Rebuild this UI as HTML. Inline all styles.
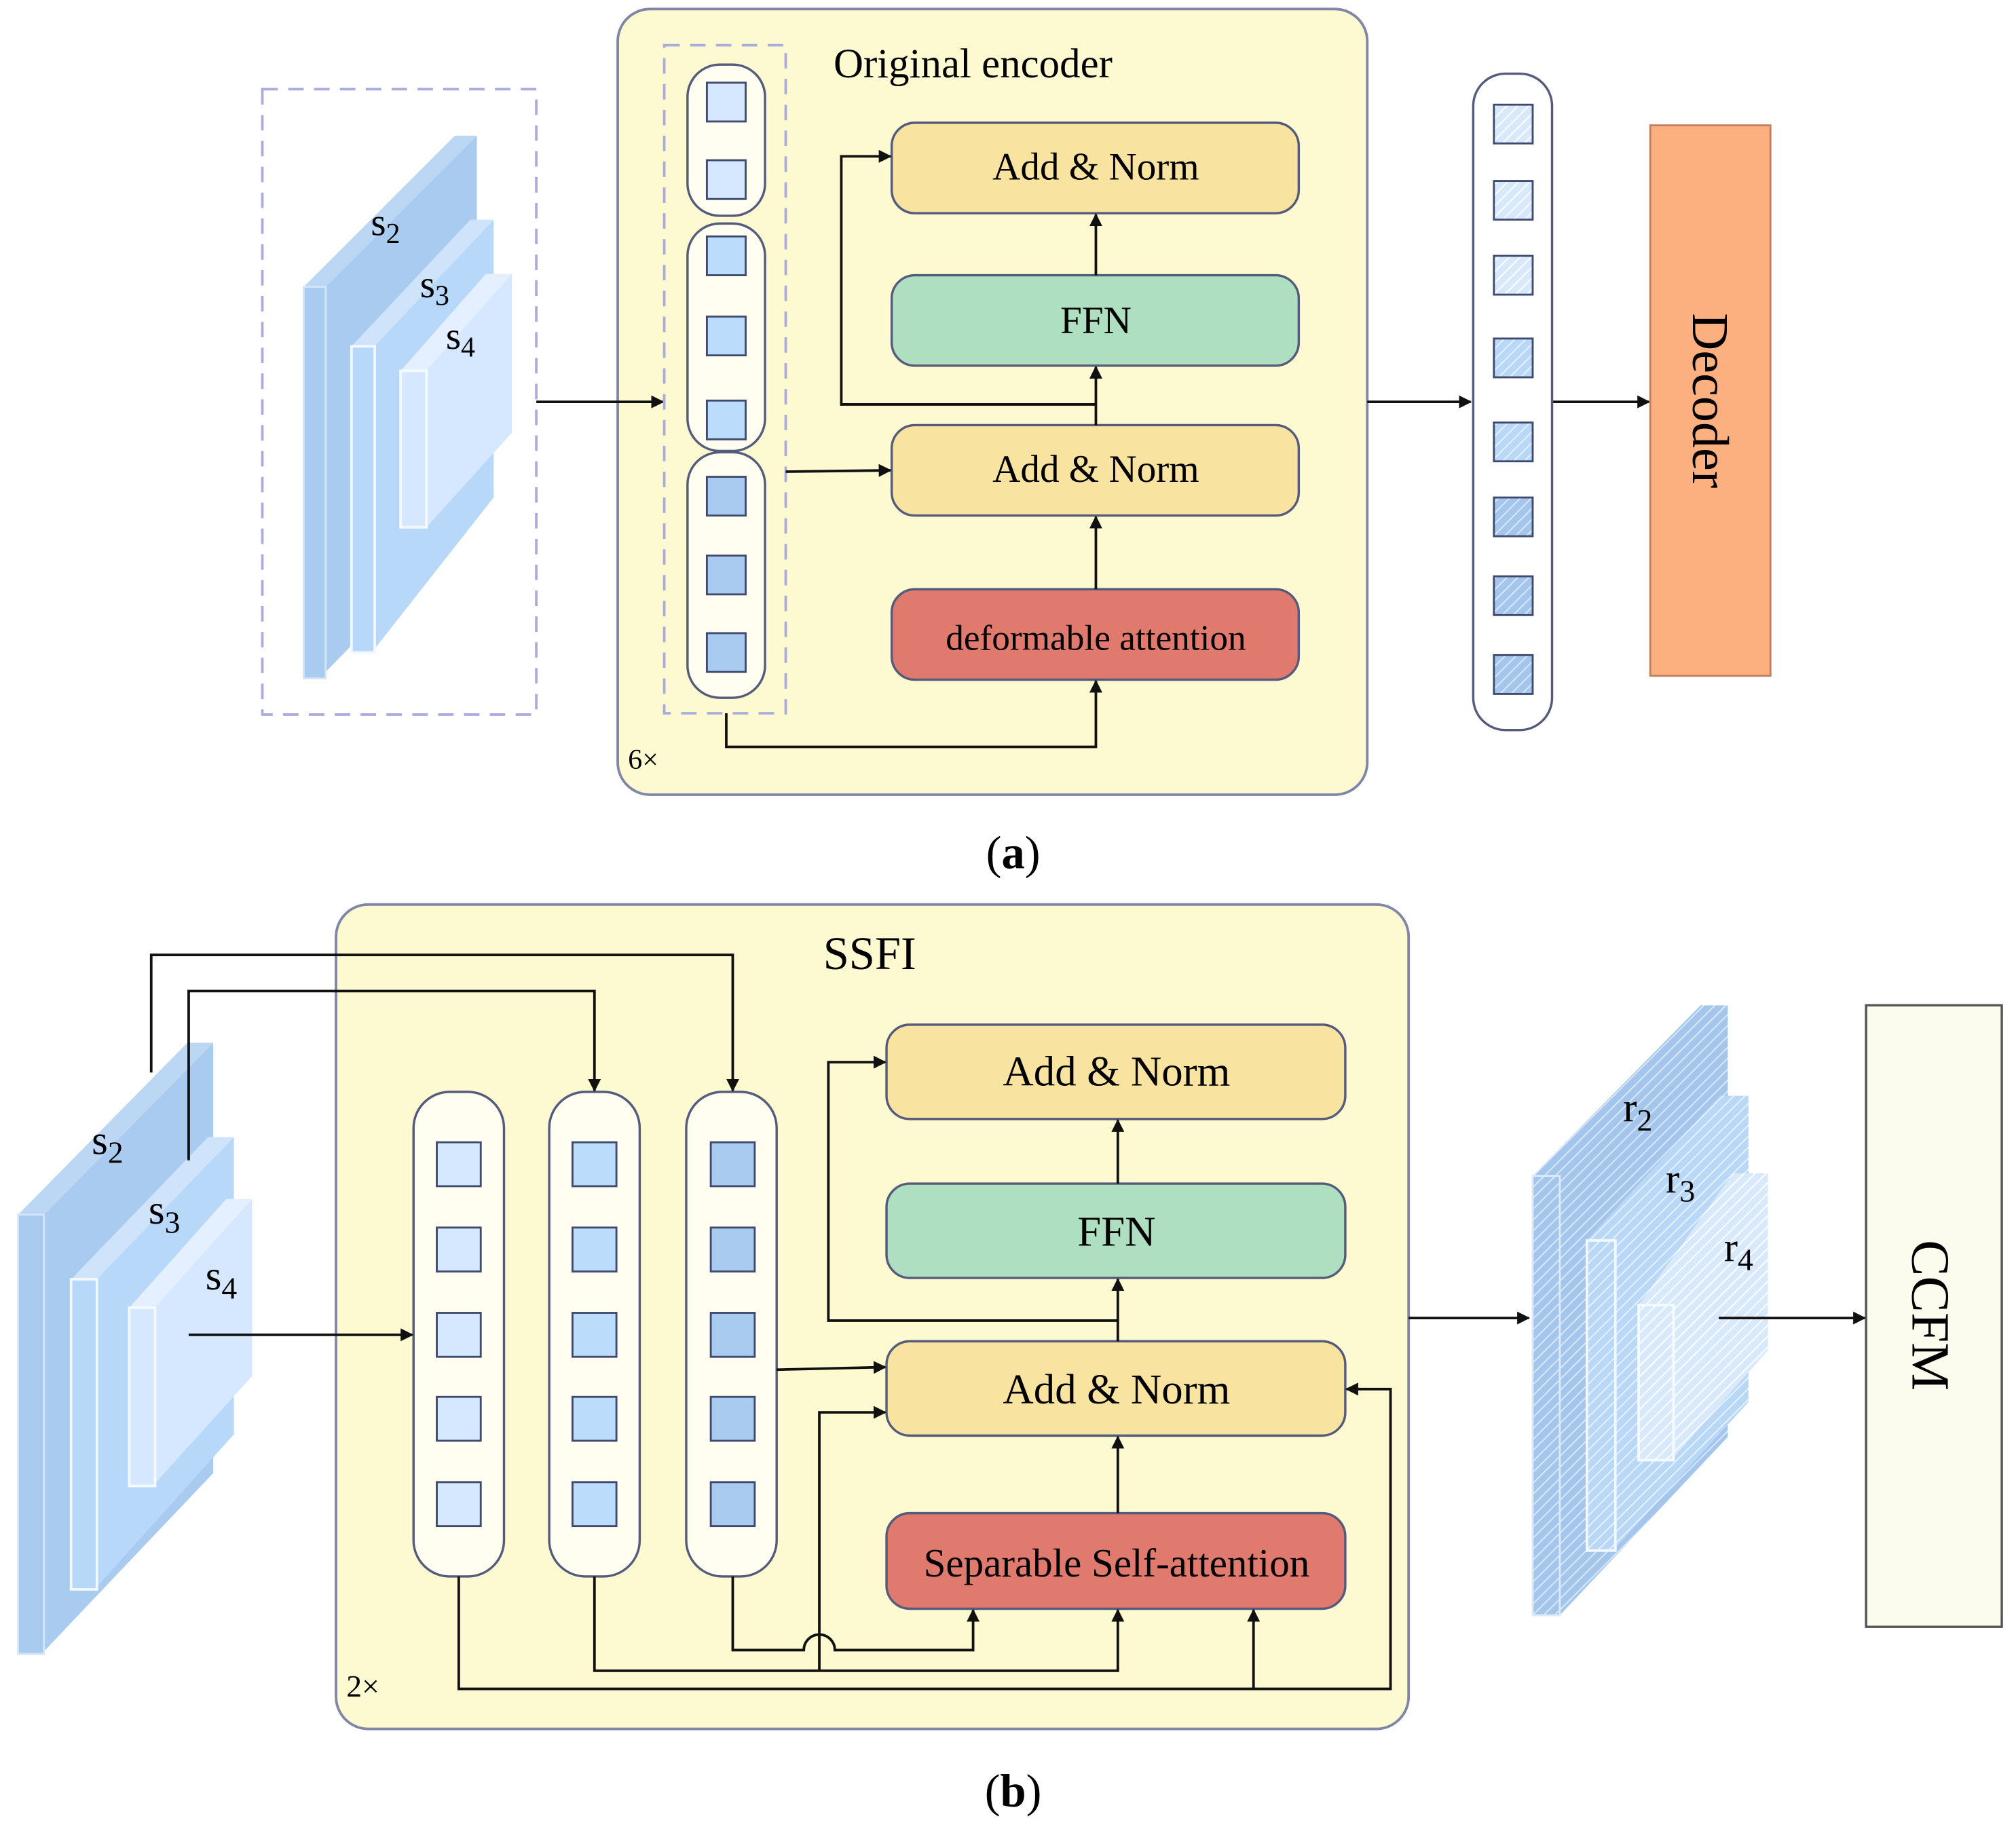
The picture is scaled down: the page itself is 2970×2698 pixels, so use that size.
<!DOCTYPE html>
<html><head><meta charset="utf-8"><style>html,body{margin:0;padding:0;background:#fff}svg{display:block}</style></head>
<body>
<svg width="2970" height="2698" viewBox="0 0 1560 1417" preserveAspectRatio="none" xmlns="http://www.w3.org/2000/svg" font-family="'Liberation Serif',serif">
<defs>
<marker id="ar" markerWidth="10" markerHeight="10" refX="9" refY="5" orient="auto" markerUnits="userSpaceOnUse"><path d="M0,0 L10,5 L0,10 Z" fill="#111"/></marker>
<pattern id="h1" width="6" height="6" patternUnits="userSpaceOnUse" patternTransform="rotate(45)"><rect width="6" height="6" fill="#d8e9fc"/><line x1="0" y1="0" x2="0" y2="6" stroke="#fff" stroke-width="2"/></pattern>
<pattern id="h2" width="6" height="6" patternUnits="userSpaceOnUse" patternTransform="rotate(45)"><rect width="6" height="6" fill="#b9d7f6"/><line x1="0" y1="0" x2="0" y2="6" stroke="#e8f2ff" stroke-width="2"/></pattern>
<pattern id="h3" width="6" height="6" patternUnits="userSpaceOnUse" patternTransform="rotate(45)"><rect width="6" height="6" fill="#a4c6ec"/><line x1="0" y1="0" x2="0" y2="6" stroke="#dbe9f8" stroke-width="2"/></pattern>
</defs>

<!-- ===== Panel (a) ===== -->
<rect x="203" y="69" width="212" height="484" fill="none" stroke="#a9acdc" stroke-width="2" stroke-dasharray="12,8"/>
<polygon points="252,222 369,105 369,400 252,520" fill="#a9cbef"/>
<polygon points="235,222 352,105 369,105 252,222" fill="#bcd7f4"/>
<rect x="235" y="222" width="17" height="303" fill="#a9cbef" stroke="#d4e5f8" stroke-width="1.5"/>
<polygon points="290,268 382,170 382,385 290,502" fill="#b8d8fa"/>
<polygon points="272,268 364,170 382,170 290,268" fill="#cfe4fb"/>
<rect x="272" y="268" width="18" height="237" fill="#b8d8fa" stroke="#f2f8ff" stroke-width="2"/>
<polygon points="330,287 396,212 396,335 330,408" fill="#d6e8ff"/>
<polygon points="310,287 376,212 396,212 330,287" fill="#e4efff"/>
<rect x="310" y="287" width="20" height="121" fill="#d6e8ff" stroke="#f5faff" stroke-width="2"/>
<text x="287" y="182" font-size="30">s<tspan font-size="22" dy="6">2</tspan></text>
<text x="325" y="230" font-size="30">s<tspan font-size="22" dy="6">3</tspan></text>
<text x="345" y="270" font-size="30">s<tspan font-size="22" dy="6">4</tspan></text>

<rect x="478" y="7" width="580" height="608" rx="25" fill="#fdfad2" stroke="#7f86a6" stroke-width="2"/>
<line x1="415" y1="311" x2="513" y2="311" stroke="#111" stroke-width="2" marker-end="url(#ar)"/>
<rect x="514" y="35" width="94" height="517" fill="none" stroke="#a9acdc" stroke-width="2" stroke-dasharray="12,8"/>
<rect x="532" y="50" width="60" height="117" rx="25" fill="#fffef0" stroke="#555b7a" stroke-width="1.8"/>
<rect x="532" y="173" width="60" height="176" rx="25" fill="#fffef0" stroke="#555b7a" stroke-width="1.8"/>
<rect x="532" y="350" width="60" height="190" rx="25" fill="#fffef0" stroke="#555b7a" stroke-width="1.8"/>
<g stroke="#3f4a6e" stroke-width="1.5">
<rect x="547" y="64" width="30" height="30" fill="#d6e8ff"/>
<rect x="547" y="124" width="30" height="30" fill="#d6e8ff"/>
<rect x="547" y="183" width="30" height="30" fill="#bcdcfc"/>
<rect x="547" y="245" width="30" height="30" fill="#bcdcfc"/>
<rect x="547" y="310" width="30" height="30" fill="#bcdcfc"/>
<rect x="547" y="369" width="30" height="30" fill="#a9cbef"/>
<rect x="547" y="430" width="30" height="30" fill="#a9cbef"/>
<rect x="547" y="490" width="30" height="30" fill="#a9cbef"/>
</g>
<text x="645" y="60" font-size="32">Original encoder</text>
<g stroke="#555b7a" stroke-width="1.8">
<rect x="690" y="95" width="315" height="70" rx="18" fill="#f8e3a0"/>
<rect x="690" y="213" width="315" height="70" rx="18" fill="#aedfc0"/>
<rect x="690" y="329" width="315" height="70" rx="18" fill="#f8e3a0"/>
<rect x="690" y="456" width="315" height="70" rx="18" fill="#e07a6e"/>
</g>
<g font-size="30" text-anchor="middle">
<text x="848" y="139">Add &amp; Norm</text>
<text x="848" y="258">FFN</text>
<text x="848" y="373">Add &amp; Norm</text>
<text x="848" y="503" font-size="28">deformable attention</text>
</g>
<g stroke="#111" stroke-width="2" fill="none">
<line x1="848" y1="213" x2="848" y2="166" marker-end="url(#ar)"/>
<line x1="848" y1="329" x2="848" y2="284" marker-end="url(#ar)"/>
<line x1="848" y1="456" x2="848" y2="400" marker-end="url(#ar)"/>
<polyline points="562,552 562,578 848,578 848,527" marker-end="url(#ar)"/>
<polyline points="848,313 651,313 651,121 689,121" marker-end="url(#ar)"/>
<line x1="608" y1="365" x2="689" y2="364" marker-end="url(#ar)"/>
<line x1="1058" y1="311" x2="1138" y2="311" marker-end="url(#ar)"/>
<line x1="1201" y1="311" x2="1276" y2="311" marker-end="url(#ar)"/>
</g>
<text x="486" y="595" font-size="22">6×</text>
<rect x="1140" y="57" width="61" height="508" rx="25" fill="#fff" stroke="#555b7a" stroke-width="1.8"/>
<g stroke="#3f4a6e" stroke-width="1.5">
<rect x="1156" y="81" width="30" height="30" fill="url(#h1)"/>
<rect x="1156" y="140" width="30" height="30" fill="url(#h1)"/>
<rect x="1156" y="198" width="30" height="30" fill="url(#h1)"/>
<rect x="1156" y="262" width="30" height="30" fill="url(#h2)"/>
<rect x="1156" y="327" width="30" height="30" fill="url(#h2)"/>
<rect x="1156" y="385" width="30" height="30" fill="url(#h3)"/>
<rect x="1156" y="446" width="30" height="30" fill="url(#h3)"/>
<rect x="1156" y="507" width="30" height="30" fill="url(#h3)"/>
</g>
<rect x="1277" y="97" width="93" height="426" fill="#fdb07f" stroke="#c08060" stroke-width="1.5"/>
<text transform="translate(1310,310) rotate(90)" font-size="40" text-anchor="middle">Decoder</text>
<text x="784" y="672" font-size="36" text-anchor="middle">(<tspan font-weight="bold">a</tspan>)</text>

<!-- ===== Panel (b) ===== -->
<rect x="260" y="700" width="830" height="638" rx="25" fill="#fdfad2" stroke="#7f86a6" stroke-width="2"/>
<text x="673" y="750" font-size="36" text-anchor="middle">SSFI</text>
<polygon points="34,940 165,807 165,1140 34,1278" fill="#a9cbef"/>
<polygon points="14,940 145,807 165,807 34,940" fill="#bcd7f4"/>
<rect x="14" y="940" width="20" height="340" fill="#a9cbef" stroke="#d4e5f8" stroke-width="1.5"/>
<polygon points="75,990 181,880 181,1110 75,1228" fill="#b8d8fa"/>
<polygon points="55,990 161,880 181,880 75,990" fill="#cfe4fb"/>
<rect x="55" y="990" width="20" height="240" fill="#b8d8fa" stroke="#f2f8ff" stroke-width="2"/>
<polygon points="120,1012 195,928 195,1065 120,1148" fill="#d6e8ff"/>
<polygon points="100,1012 175,928 195,928 120,1012" fill="#e4efff"/>
<rect x="100" y="1012" width="20" height="138" fill="#d6e8ff" stroke="#f5faff" stroke-width="2"/>
<text x="71" y="893" font-size="32">s<tspan font-size="24" dy="7">2</tspan></text>
<text x="115" y="947" font-size="32">s<tspan font-size="24" dy="7">3</tspan></text>
<text x="159" y="998" font-size="32">s<tspan font-size="24" dy="7">4</tspan></text>

<g fill="#fffef0" stroke="#555b7a" stroke-width="1.8">
<rect x="320" y="845" width="70" height="375" rx="28"/>
<rect x="425" y="845" width="70" height="375" rx="28"/>
<rect x="531" y="845" width="70" height="375" rx="28"/>
</g>
<g stroke="#3f4a6e" stroke-width="1.5">
<g fill="#d6e8ff"><rect x="338" y="884" width="34" height="34"/><rect x="338" y="950" width="34" height="34"/><rect x="338" y="1016" width="34" height="34"/><rect x="338" y="1081" width="34" height="34"/><rect x="338" y="1147" width="34" height="34"/></g>
<g fill="#bcdcfc"><rect x="443" y="884" width="34" height="34"/><rect x="443" y="950" width="34" height="34"/><rect x="443" y="1016" width="34" height="34"/><rect x="443" y="1081" width="34" height="34"/><rect x="443" y="1147" width="34" height="34"/></g>
<g fill="#a9cbef"><rect x="550" y="884" width="34" height="34"/><rect x="550" y="950" width="34" height="34"/><rect x="550" y="1016" width="34" height="34"/><rect x="550" y="1081" width="34" height="34"/><rect x="550" y="1147" width="34" height="34"/></g>
</g>
<g stroke="#555b7a" stroke-width="1.8">
<rect x="686" y="793" width="355" height="73" rx="18" fill="#f8e3a0"/>
<rect x="686" y="916" width="355" height="73" rx="18" fill="#aedfc0"/>
<rect x="686" y="1038" width="355" height="73" rx="18" fill="#f8e3a0"/>
<rect x="686" y="1171" width="355" height="74" rx="18" fill="#e07a6e"/>
</g>
<g font-size="33" text-anchor="middle">
<text x="864" y="840">Add &amp; Norm</text>
<text x="864" y="964">FFN</text>
<text x="864" y="1086">Add &amp; Norm</text>
<text x="864" y="1220" font-size="31">Separable Self-attention</text>
</g>
<g stroke="#111" stroke-width="2" fill="none">
<polyline points="117,830 117,739 567,739 567,844" marker-end="url(#ar)"/>
<polyline points="146,898 146,767 460,767 460,844" marker-end="url(#ar)"/>
<line x1="146" y1="1033" x2="319" y2="1033" marker-end="url(#ar)"/>
<line x1="865" y1="916" x2="865" y2="867" marker-end="url(#ar)"/>
<line x1="865" y1="1038" x2="865" y2="990" marker-end="url(#ar)"/>
<line x1="865" y1="1171" x2="865" y2="1112" marker-end="url(#ar)"/>
<polyline points="865,1022 641,1022 641,822 685,822" marker-end="url(#ar)"/>
<line x1="601" y1="1060" x2="685" y2="1058" marker-end="url(#ar)"/>
<polyline points="634,1293 634,1093 685,1093" marker-end="url(#ar)"/>
<path d="M567,1220 L567,1277 L622,1277 A12,12 0 0 1 646,1277 L753,1277 L753,1246" marker-end="url(#ar)"/>
<polyline points="460,1220 460,1293 865,1293 865,1246" marker-end="url(#ar)"/>
<polyline points="355,1220 355,1307 1076,1307 1076,1075 1042,1075" marker-end="url(#ar)"/>
<polyline points="970,1307 970,1246" marker-end="url(#ar)"/>
<line x1="1090" y1="1020" x2="1183" y2="1020" marker-end="url(#ar)"/>
</g>
<text x="268" y="1313" font-size="24">2×</text>

<polygon points="1207,910 1337,778 1337,1112 1207,1250" fill="url(#h3)"/>
<polygon points="1186,910 1316,778 1337,778 1207,910" fill="url(#h3)"/>
<rect x="1186" y="910" width="21" height="340" fill="url(#h3)" stroke="#dbe9f8" stroke-width="1.5"/>
<polygon points="1250,960 1353,848 1353,1085 1250,1198" fill="url(#h2)"/>
<polygon points="1228,960 1331,848 1353,848 1250,960" fill="url(#h2)"/>
<rect x="1228" y="960" width="22" height="240" fill="url(#h2)" stroke="#f2f8ff" stroke-width="2"/>
<polygon points="1295,1010 1368,908 1368,1045 1295,1128" fill="url(#h1)"/>
<polygon points="1268,1010 1341,908 1368,908 1295,1010" fill="url(#h1)"/>
<rect x="1268" y="1010" width="27" height="120" fill="url(#h1)" stroke="#f5faff" stroke-width="2"/>
<text x="1256" y="868" font-size="32">r<tspan font-size="24" dy="7">2</tspan></text>
<text x="1289" y="923" font-size="32">r<tspan font-size="24" dy="7">3</tspan></text>
<text x="1334" y="976" font-size="32">r<tspan font-size="24" dy="7">4</tspan></text>
<line x1="1330" y1="1020" x2="1443" y2="1020" stroke="#111" stroke-width="2" marker-end="url(#ar)"/>
<rect x="1444" y="778" width="105" height="481" fill="#fcfcee" stroke="#555" stroke-width="1.8"/>
<text transform="translate(1480,1018) rotate(90)" font-size="42" text-anchor="middle">CCFM</text>
<text x="784" y="1398" font-size="36" text-anchor="middle">(<tspan font-weight="bold">b</tspan>)</text>
</svg>
</body></html>
